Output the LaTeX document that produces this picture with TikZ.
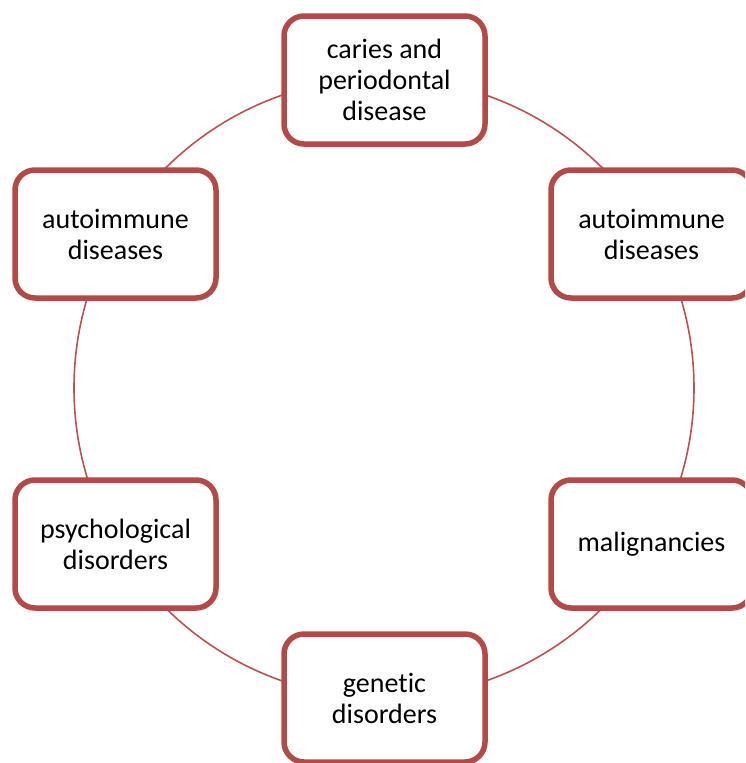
\documentclass[tikz,border=0pt]{standalone}
\usepackage{fontspec}
\setmainfont[Ligatures=NoCommon]{Carlito}
\definecolor{boxred}{RGB}{178,74,72}
\definecolor{ringred}{RGB}{192,80,77}
\begin{document}
\begin{tikzpicture}[x=1pt,y=-1pt,
  topic/.style={draw=boxred, line width=5.5pt, fill=white, rounded corners=20pt,
    minimum width=201pt, minimum height=128pt, align=center,
    font=\fontsize{28}{31}\selectfont, inner sep=0pt}]
\useasboundingbox (0,0) rectangle (745,763);
\clip (0,0) rectangle (745,763);
\coordinate (c) at (384,388);
\draw[ringred, line width=1.6pt] (c) circle[radius=310pt];
\node[topic] (top) at (384.5,80) {caries and\\periodontal\\disease};
\node[topic] (ul) at (115.5,234) {autoimmune\\diseases};
\node[topic] (ur) at (651.5,234) {autoimmune\\diseases};
\node[topic] (ll) at (115.5,544) {psychological\\disorders};
\node[topic] (lr) at (651.5,544) {malignancies};
\node[topic] (bot) at (384.5,698) {genetic\\disorders};
\end{tikzpicture}
\end{document}
